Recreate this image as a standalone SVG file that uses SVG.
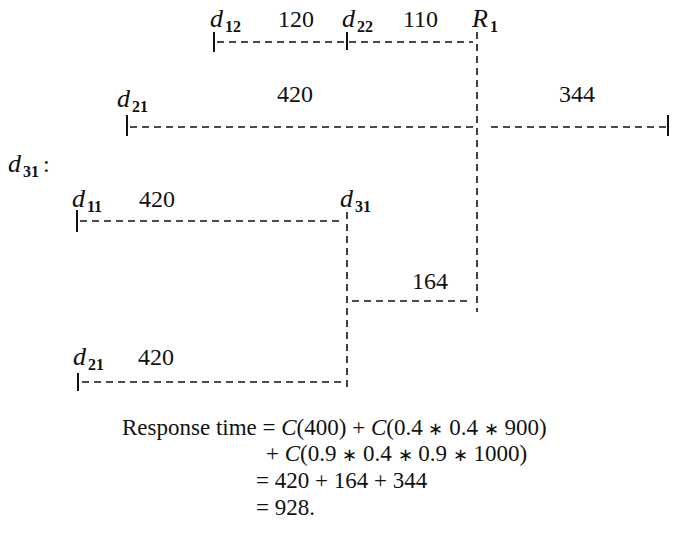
<svg xmlns="http://www.w3.org/2000/svg" width="678" height="540" viewBox="0 0 678 540">
<style>
text{font-family:"Liberation Serif","Times New Roman",serif;fill:#111}
.lab{font-size:24px}
.d{font-style:italic;font-size:26px}
.sub{font-size:16px;font-weight:bold}
.f{font-size:23px}
.i{font-style:italic}
.st{font-size:18px}
.dash{stroke:#111;stroke-width:1.6;stroke-dasharray:7 5;fill:none}
.tick{stroke:#111;stroke-width:2;fill:none}
</style>
<rect width="678" height="540" fill="#fff"/>
<g id="connectors">
<line class="dash" x1="217" y1="42" x2="473" y2="42"/>
<line class="dash" x1="477" y1="32" x2="477" y2="312"/>
<line class="dash" x1="130" y1="127" x2="474" y2="127"/>
<line class="dash" x1="491" y1="127" x2="666" y2="127"/>
<line class="dash" x1="80" y1="221" x2="344" y2="221"/>
<line class="dash" x1="347" y1="212" x2="347" y2="390"/>
<line class="dash" x1="352" y1="301" x2="472" y2="301"/>
<line class="dash" x1="82" y1="382" x2="343" y2="382"/>
</g>
<g id="d12"><text x="210" y="27" class="d">d</text><text x="225" y="32" class="sub">12</text><line class="tick" x1="214" y1="32" x2="214" y2="52"/></g>
<g id="lbl120"><text x="278" y="27" class="lab">120</text></g>
<g id="d22"><text x="342" y="27" class="d">d</text><text x="357" y="32" class="sub">22</text><line class="tick" x1="347" y1="32" x2="347" y2="50"/></g>
<g id="lbl110"><text x="403" y="27" class="lab">110</text></g>
<g id="R1"><text x="472" y="27" class="d">R</text><text x="490" y="32" class="sub">1</text></g>
<g id="d21a"><text x="117" y="107" class="d">d</text><text x="132" y="112" class="sub">21</text><line class="tick" x1="127" y1="115" x2="127" y2="136"/></g>
<g id="lbl420a"><text x="277" y="102" class="lab">420</text></g>
<g id="lbl344"><text x="559" y="102" class="lab">344</text><line class="tick" x1="668" y1="115" x2="668" y2="136"/></g>
<g id="d31title"><text x="8" y="172" class="d">d</text><text x="23" y="177" class="sub">31</text><text x="43" y="172" class="lab">:</text></g>
<g id="d11"><text x="72" y="207" class="d">d</text><text x="87" y="212" class="sub">11</text><line class="tick" x1="77" y1="210" x2="77" y2="232"/></g>
<g id="lbl420b"><text x="139" y="207" class="lab">420</text></g>
<g id="d31"><text x="340" y="207" class="d">d</text><text x="355" y="212" class="sub">31</text></g>
<g id="lbl164"><text x="412" y="289" class="lab">164</text></g>
<g id="d21b"><text x="73" y="365" class="d">d</text><text x="88" y="370" class="sub">21</text><line class="tick" x1="78" y1="373" x2="78" y2="391"/></g>
<g id="lbl420c"><text x="138" y="365" class="lab">420</text></g>
<g id="formula">
<text x="122" y="435" class="f">Response time = <tspan class="i">C</tspan>(400) + <tspan class="i">C</tspan>(0.4 <tspan class="st">∗</tspan> 0.4 <tspan class="st">∗</tspan> 900)</text>
<text x="266" y="461" class="f">+ <tspan class="i">C</tspan>(0.9 <tspan class="st">∗</tspan> 0.4 <tspan class="st">∗</tspan> 0.9 <tspan class="st">∗</tspan> 1000)</text>
<text x="256" y="488" class="f">= 420 + 164 + 344</text>
<text x="256" y="515" class="f">= 928.</text>
</g>
</svg>
